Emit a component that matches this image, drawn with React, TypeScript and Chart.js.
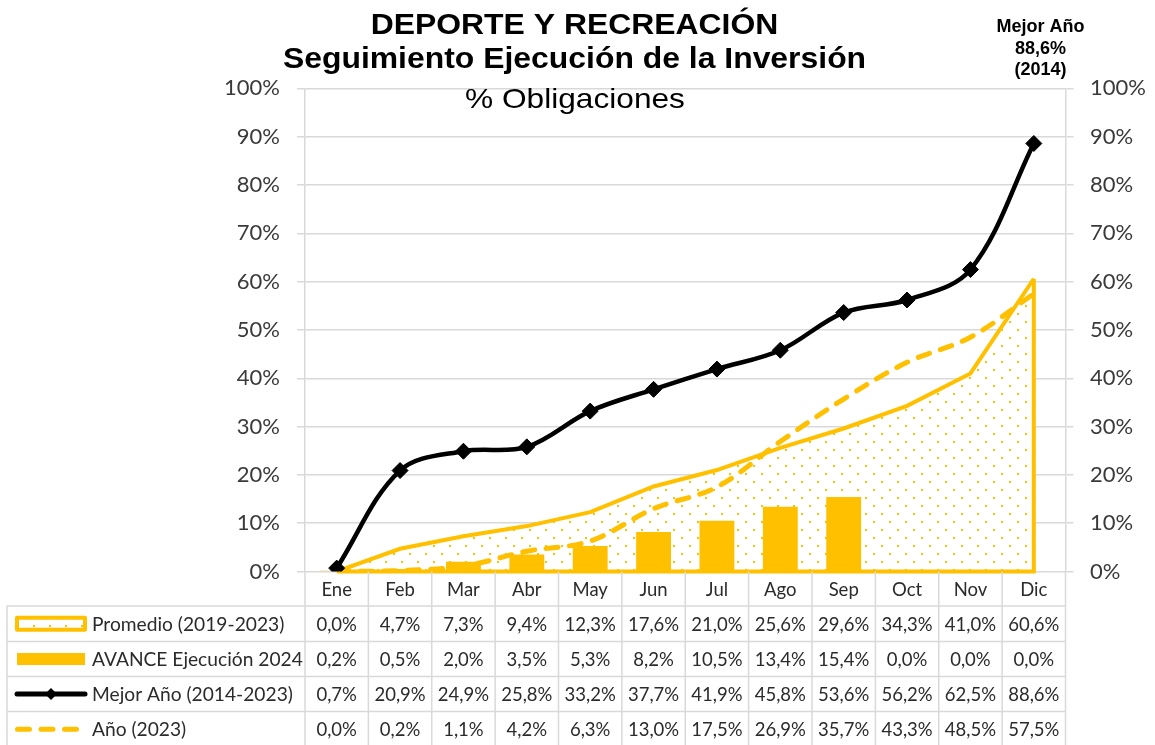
import React, { useEffect, useRef } from 'react';
import { Chart, registerables } from 'chart.js';

Chart.register(...registerables);

// ---------- data ----------
const months = ['Ene', 'Feb', 'Mar', 'Abr', 'May', 'Jun', 'Jul', 'Ago', 'Sep', 'Oct', 'Nov', 'Dic'];
const promedio = [0.0, 4.7, 7.3, 9.4, 12.3, 17.6, 21.0, 25.6, 29.6, 34.3, 41.0, 60.6];
const avance2024 = [0.2, 0.5, 2.0, 3.5, 5.3, 8.2, 10.5, 13.4, 15.4, 0.0, 0.0, 0.0];
const mejorAnio = [0.7, 20.9, 24.9, 25.8, 33.2, 37.7, 41.9, 45.8, 53.6, 56.2, 62.5, 88.6];
const anio2023 = [0.0, 0.2, 1.1, 4.2, 6.3, 13.0, 17.5, 26.9, 35.7, 43.3, 48.5, 57.5];
const seriesNames = ['Promedio (2019-2023)', 'AVANCE Ejecución 2024', 'Mejor Año (2014-2023)', 'Año (2023)'];
const titleLines = ['DEPORTE Y RECREACIÓN', 'Seguimiento Ejecución de la Inversión'];
const subtitle = '% Obligaciones';
const noteLines = ['Mejor Año', '88,6%', '(2014)'];
const yMin = 0;
const yMax = 100;
const yStep = 10;

// ---------- style / layout ----------
const W = 1155;
const H = 745;
const YELLOW = '#FFC000';
const GRID = '#d9d9d9';
const TICK_TEXT = '#3a3a3a';
const TABLE_TEXT = '#2b2b2b';
const AREA_LEFT = 305;
const AREA_RIGHT = 1065.5;
const AREA_TOP = 88.4;
const AREA_BOTTOM = 571.5;
const ROW_Y = [571.5, 606, 641.5, 676.5, 711.5, 747];
const TABLE_LEFT = 7;
const CAL = 'Lato, "Open Sans", sans-serif';
const ARIAL = '"Liberation Sans", Arial, sans-serif';

const fmt = (v: number) => v.toFixed(1).replace('.', ',') + '%';

function makePattern(): CanvasPattern | string {
  const c = document.createElement('canvas');
  c.width = 16;
  c.height = 16;
  const g = c.getContext('2d');
  if (!g) return 'rgba(255,192,0,0.1)';
  g.fillStyle = '#ffffff';
  g.fillRect(0, 0, 16, 16);
  g.fillStyle = YELLOW;
  g.fillRect(1, 1, 2, 2);
  g.fillRect(9, 9, 2, 2);
  const p = g.createPattern(c, 'repeat');
  return p || 'rgba(255,192,0,0.1)';
}

function stretchText(ctx: CanvasRenderingContext2D, text: string, cx: number, y: number, font: string, sx: number, color: string) {
  ctx.save();
  ctx.font = font;
  ctx.fillStyle = color;
  ctx.textAlign = 'center';
  ctx.textBaseline = 'alphabetic';
  ctx.translate(cx, y);
  ctx.scale(sx, 1);
  ctx.fillText(text, 0, 0);
  ctx.restore();
}

export default function App() {
  const ref = useRef<HTMLCanvasElement | null>(null);

  useEffect(() => {
    const canvas = ref.current;
    if (!canvas) return;
    const pattern = makePattern();

    const areaEdgePlugin = {
      id: 'areaEdge',
      afterDatasetDraw(chart: any, args: any) {
        if (args.index !== 0) return;
        const ctx = chart.ctx as CanvasRenderingContext2D;
        const xs = chart.scales.x;
        const ys = chart.scales.y;
        const n = promedio.length;
        const x0 = xs.getPixelForValue(0);
        const x1 = xs.getPixelForValue(n - 1);
        const yz = ys.getPixelForValue(0);
        const yl = ys.getPixelForValue(promedio[n - 1]);
        ctx.save();
        ctx.strokeStyle = YELLOW;
        ctx.lineWidth = 4;
        ctx.lineJoin = 'miter';
        ctx.beginPath();
        ctx.moveTo(x1, yl);
        ctx.lineTo(x1, yz);
        ctx.lineTo(x0, yz);
        ctx.stroke();
        ctx.restore();
      },
    };

    const decorPlugin = {
      id: 'decor',
      afterDraw(chart: any) {
        const ctx = chart.ctx as CanvasRenderingContext2D;
        const xs = chart.scales.x;
        const n = months.length;
        const cw = xs.getPixelForValue(1) - xs.getPixelForValue(0);
        const left = chart.chartArea.left;
        const right = chart.chartArea.right;

        // titles
        stretchText(ctx, titleLines[0], 574.5, 33.5, `bold 29px ${ARIAL}`, 1.1, '#000');
        stretchText(ctx, titleLines[1], 574.5, 68, `bold 29px ${ARIAL}`, 1.1, '#000');
        stretchText(ctx, subtitle, 575, 108.3, `28px ${ARIAL}`, 1.13, '#000');
        stretchText(ctx, noteLines[0], 1040.5, 32, `bold 18px ${ARIAL}`, 1, '#000');
        stretchText(ctx, noteLines[1], 1040.5, 53.5, `bold 18px ${ARIAL}`, 1, '#000');
        stretchText(ctx, noteLines[2], 1040.5, 74.5, `bold 18px ${ARIAL}`, 1, '#000');

        // table grid
        ctx.save();
        ctx.strokeStyle = GRID;
        ctx.lineWidth = 1.5;
        ctx.beginPath();
        for (let i = 0; i <= n; i++) {
          const bx = i === 0 ? left : i === n ? right : xs.getPixelForValue(i) - cw / 2;
          ctx.moveTo(bx, ROW_Y[0]);
          ctx.lineTo(bx, H);
        }
        for (let r = 1; r < ROW_Y.length - 1; r++) {
          ctx.moveTo(TABLE_LEFT, ROW_Y[r]);
          ctx.lineTo(right, ROW_Y[r]);
        }
        ctx.moveTo(TABLE_LEFT, ROW_Y[1]);
        ctx.lineTo(TABLE_LEFT, H);
        ctx.stroke();
        ctx.restore();

        // header labels and values
        ctx.save();
        ctx.textAlign = 'center';
        ctx.textBaseline = 'middle';
        ctx.fillStyle = TABLE_TEXT;
        ctx.font = `18.5px ${CAL}`;
        const rowsData = [promedio, avance2024, mejorAnio, anio2023];
        for (let i = 0; i < n; i++) {
          const cx = xs.getPixelForValue(i);
          ctx.fillText(months[i], cx, (ROW_Y[0] + ROW_Y[1]) / 2 + 1);
          for (let r = 0; r < rowsData.length; r++) {
            ctx.fillText(fmt(rowsData[r][i]), cx, (ROW_Y[r + 1] + ROW_Y[r + 2]) / 2 + 1);
          }
        }
        // legend labels
        ctx.textAlign = 'left';
        ctx.font = `19.2px ${CAL}`;
        for (let r = 0; r < seriesNames.length; r++) {
          ctx.fillText(seriesNames[r], 92, (ROW_Y[r + 1] + ROW_Y[r + 2]) / 2 + 1);
        }
        ctx.restore();

        // legend swatches
        ctx.save();
        const cy = (r: number) => (ROW_Y[r + 1] + ROW_Y[r + 2]) / 2;
        // Promedio
        ctx.fillStyle = pattern as any;
        ctx.fillRect(17, cy(0) - 6, 68, 12);
        ctx.strokeStyle = YELLOW;
        ctx.lineWidth = 4;
        ctx.lineJoin = 'round';
        ctx.strokeRect(17, cy(0) - 6, 68, 12);
        // Avance
        ctx.fillStyle = YELLOW;
        ctx.fillRect(17, cy(1) - 6, 68, 12);
        // Mejor
        ctx.strokeStyle = '#000';
        ctx.lineWidth = 5;
        ctx.lineCap = 'round';
        ctx.beginPath();
        ctx.moveTo(17, cy(2));
        ctx.lineTo(85, cy(2));
        ctx.stroke();
        ctx.fillStyle = '#000';
        ctx.beginPath();
        ctx.moveTo(51, cy(2) - 6);
        ctx.lineTo(57, cy(2));
        ctx.lineTo(51, cy(2) + 6);
        ctx.lineTo(45, cy(2));
        ctx.closePath();
        ctx.fill();
        // Año 2023
        ctx.strokeStyle = YELLOW;
        ctx.lineWidth = 5;
        ctx.setLineDash([12, 11.5]);
        ctx.beginPath();
        ctx.moveTo(17.5, cy(3));
        ctx.lineTo(80, cy(3));
        ctx.stroke();
        ctx.restore();
      },
    };

    const tickCb = (v: any) => `${v}%`;

    const chart = new Chart(canvas, {
      type: 'bar',
      data: {
        labels: months,
        datasets: [
          {
            type: 'line',
            label: seriesNames[0],
            data: promedio,
            borderColor: YELLOW,
            borderWidth: 4,
            backgroundColor: pattern as any,
            fill: 'origin',
            pointRadius: 0,
            tension: 0,
            order: 4,
          },
          {
            type: 'bar',
            label: seriesNames[1],
            data: avance2024,
            backgroundColor: YELLOW,
            borderWidth: 0,
            barPercentage: 0.55,
            categoryPercentage: 1,
            order: 3,
          },
          {
            type: 'line',
            label: seriesNames[2],
            data: mejorAnio,
            borderColor: '#000',
            borderWidth: 4.5,
            pointStyle: 'rectRot',
            pointRadius: 8,
            pointBackgroundColor: '#000',
            pointBorderColor: '#000',
            pointBorderWidth: 1,
            tension: 0.35,
            fill: false,
            order: 1,
          },
          {
            type: 'line',
            label: seriesNames[3],
            data: anio2023,
            borderColor: YELLOW,
            borderWidth: 5,
            borderDash: [12, 11.5],
            borderCapStyle: 'round',
            pointRadius: 0,
            tension: 0.35,
            fill: false,
            order: 2,
          },
        ] as any,
      },
      options: {
        responsive: false,
        animation: false,
        layout: { padding: { left: 0, right: 0, top: AREA_TOP, bottom: H - AREA_BOTTOM } },
        plugins: {
          legend: { display: false },
          tooltip: { enabled: false },
          title: { display: false },
        },
        scales: {
          x: { display: false, offset: true },
          y: {
            position: 'left',
            min: yMin,
            max: yMax,
            ticks: { stepSize: yStep, callback: tickCb, padding: 17, color: TICK_TEXT, font: { family: CAL, size: 22 } },
            grid: { color: GRID, lineWidth: 1.5, tickLength: 8 },
            border: { color: GRID, width: 1.5 },
            afterFit: (s: any) => { s.width = AREA_LEFT; },
          },
          y2: {
            position: 'right',
            min: yMin,
            max: yMax,
            ticks: { stepSize: yStep, callback: tickCb, padding: 16.5, color: TICK_TEXT, font: { family: CAL, size: 22 } },
            grid: { drawOnChartArea: false, color: GRID, lineWidth: 1.5, tickLength: 8 },
            border: { color: GRID, width: 1.5 },
            afterFit: (s: any) => { s.width = W - AREA_RIGHT; },
          },
        },
      } as any,
      plugins: [areaEdgePlugin, decorPlugin],
    });

    return () => chart.destroy();
  }, []);

  return (
    <div style={{ position: 'fixed', left: 0, top: 0, width: W, height: H, background: '#fff' }}>
      <canvas ref={ref} width={W} height={H} style={{ width: W, height: H, display: 'block' }} />
    </div>
  );
}
